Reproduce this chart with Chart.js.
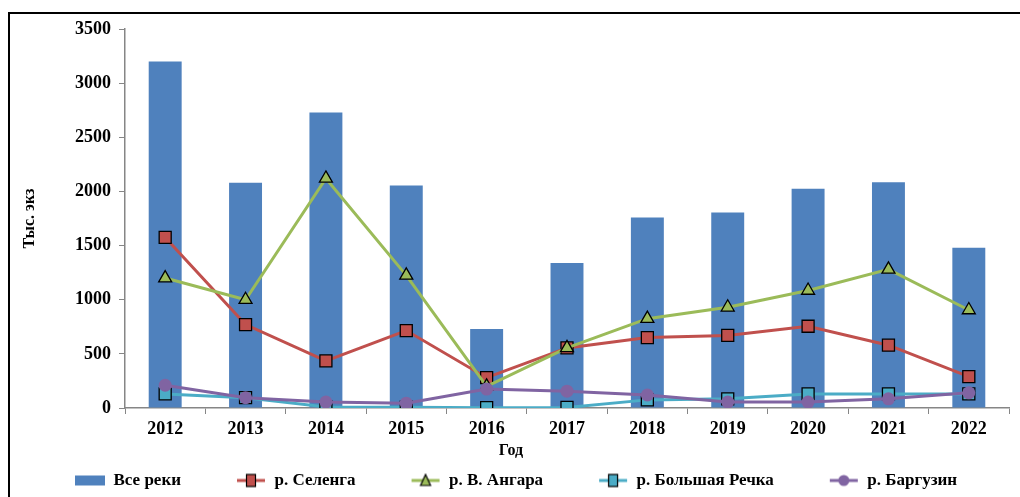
<!DOCTYPE html>
<html>
<head>
<meta charset="utf-8">
<script src="https://cdn.jsdelivr.net/npm/chart.js@4"></script>
<style>
html,body{margin:0;padding:0;background:#fff;}
#wrap{width:1020px;height:497px;position:relative;}
</style>
</head>
<body>
<div id="wrap"><canvas id="c" width="1020" height="497"></canvas></div>
<script>
const years = ['2012','2013','2014','2015','2016','2017','2018','2019','2020','2021','2022'];
const allRivers = [3200, 2080, 2730, 2055, 730, 1340, 1760, 1805, 2025, 2085, 1480];
const selenga   = [1575, 770, 435, 715, 280, 555, 650, 670, 755, 580, 290];
const angara    = [1200, 1000, 2120, 1225, 200, 555, 825, 930, 1085, 1280, 905];
const bolshaya  = [130, 95, 10, 8, 3, 5, 75, 85, 130, 130, 130];
const barguzin  = [210, 95, 55, 45, 175, 155, 120, 55, 55, 85, 140];
const seriesNames = ['Все реки', 'р. Селенга', 'р. В. Ангара', 'р. Большая Речка', 'р. Баргузин'];
const yTicks = [0, 500, 1000, 1500, 2000, 2500, 3000, 3500];
const xTitle = 'Год';
const yTitle = 'Тыс. экз';

const C_BAR = '#4F81BD', C_SEL = '#C0504D', C_ANG = '#9BBB59', C_BOL = '#4BACC6', C_BAR2 = '#8064A2';
const FONT = "'Liberation Serif', 'Times New Roman', serif";

const BLANK = 49, LW = BLANK + 30, LH = 16;
function legendImg(kind, color) {
  const cv = document.createElement('canvas');
  cv.width = LW; cv.height = LH;
  const g = cv.getContext('2d');
  const x0 = BLANK, x1 = LW, cx = (x0 + x1) / 2, cy = LH / 2;
  if (kind === 'bar') {
    g.fillStyle = color; g.fillRect(x0, cy - 5, x1 - x0, 10);
    return cv;
  }
  g.strokeStyle = color; g.lineWidth = 3;
  g.beginPath(); g.moveTo(x0 + 1, cy); g.lineTo(x1 - 1, cy); g.stroke();
  g.fillStyle = color; g.strokeStyle = '#000'; g.lineWidth = 1.2;
  if (kind === 'rect') {
    g.fillRect(cx - 4.5, cy - 6, 9, 12); g.strokeRect(cx - 4.5, cy - 6, 9, 12);
  } else if (kind === 'tri') {
    g.beginPath(); g.moveTo(cx, cy - 6); g.lineTo(cx + 5, cy + 5); g.lineTo(cx - 5, cy + 5); g.closePath(); g.fill(); g.stroke();
  } else {
    g.beginPath(); g.arc(cx, cy, 5.5, 0, Math.PI * 2); g.fill();
  }
  return cv;
}
const legendImgs = [legendImg('bar', C_BAR), legendImg('rect', C_SEL), legendImg('tri', C_ANG), legendImg('rect', C_BOL), legendImg('circ', C_BAR2)];

const framePlugin = {
  id: 'frame',
  beforeDraw(chart) {
    const ctx = chart.ctx;
    ctx.save();
    ctx.fillStyle = '#fff'; ctx.fillRect(0, 0, chart.width, chart.height);
    ctx.strokeStyle = '#000'; ctx.lineWidth = 2;
    ctx.beginPath(); ctx.moveTo(1020, 13); ctx.lineTo(9, 13); ctx.lineTo(9, 497); ctx.stroke();
    ctx.restore();
  },
  afterDraw(chart) {
    const ctx = chart.ctx;
    ctx.save();
    ctx.font = 'bold 16px ' + FONT;
    ctx.fillStyle = '#000'; ctx.textAlign = 'center'; ctx.textBaseline = 'middle';
    ctx.fillText(xTitle, 511, 451);
    ctx.restore();
  }
};

const lineDs = (label, data, color, style, radius, order, border) => ({
  type: 'line', label, data, order,
  borderColor: color, backgroundColor: color, borderWidth: 3,
  pointStyle: style, pointRadius: radius, pointHoverRadius: radius,
  pointBackgroundColor: color, pointBorderColor: border, pointBorderWidth: border === '#000' ? 1.3 : 0,
  tension: 0, fill: false
});

new Chart(document.getElementById('c'), {
  data: {
    labels: years,
    datasets: [
      { type: 'bar', label: seriesNames[0], data: allRivers, backgroundColor: C_BAR, borderWidth: 0,
        barPercentage: 0.41, categoryPercentage: 1, order: 10 },
      lineDs(seriesNames[1], selenga, C_SEL, 'rect', 8.5, 4, '#000'),
      lineDs(seriesNames[2], angara, C_ANG, 'triangle', 7.5, 3, '#000'),
      lineDs(seriesNames[3], bolshaya, C_BOL, 'rect', 8.5, 2, '#000'),
      lineDs(seriesNames[4], barguzin, C_BAR2, 'circle', 6.5, 1, C_BAR2)
    ]
  },
  options: {
    responsive: false, animation: false,
    layout: { padding: { top: 29, left: 20, right: 11, bottom: -2 } },
    plugins: {
      tooltip: { enabled: false },
      legend: {
        position: 'bottom', align: 'start',
        labels: {
          usePointStyle: true, pointStyleWidth: LW, boxHeight: 16, padding: 6,
          color: '#000', font: { family: FONT, size: 17, weight: 'bold' },
          sort: (a, b) => a.datasetIndex - b.datasetIndex,
          generateLabels(chart) {
            const items = Chart.defaults.plugins.legend.labels.generateLabels(chart);
            items.forEach((it) => { it.pointStyle = legendImgs[it.datasetIndex]; });
            return items;
          }
        }
      }
    },
    scales: {
      x: {
        offset: true,
        grid: { display: true, drawOnChartArea: false, drawTicks: true, tickLength: 6, color: '#868686', offset: true },
        border: { display: true, color: '#868686', width: 1.5 },
        ticks: { color: '#000', font: { family: FONT, size: 18, weight: 'bold' }, padding: 5, maxRotation: 0 },
        afterFit(s) { s.height = 58; }
      },
      y: {
        min: 0, max: 3500,
        afterBuildTicks(s) { s.ticks = yTicks.map(v => ({ value: v })); },
        grid: { display: true, drawOnChartArea: false, drawTicks: true, tickLength: 6, color: '#868686' },
        border: { display: true, color: '#868686', width: 1.5 },
        ticks: { color: '#000', font: { family: FONT, size: 18, weight: 'bold' }, padding: 8, callback: (v) => String(v) },
        title: { display: true, text: yTitle, color: '#000', font: { family: FONT, size: 16, weight: 'bold' }, padding: { top: 0, bottom: 18 } },
        afterFit(s) { s.width = 105; }
      }
    }
  },
  plugins: [framePlugin]
});
</script>
</body>
</html>
